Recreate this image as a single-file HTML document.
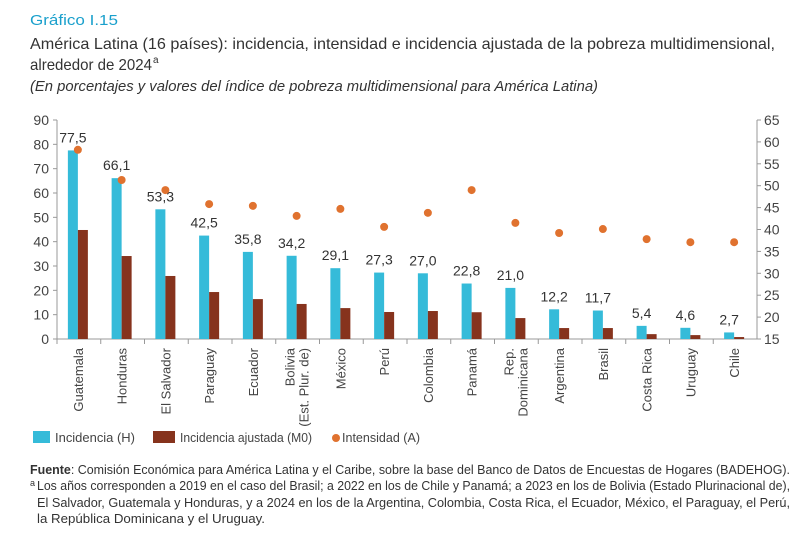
<!DOCTYPE html>
<html><head><meta charset="utf-8"><style>
html,body{margin:0;padding:0;background:#fff}
svg{display:block;font-family:"Liberation Sans Narrow","Liberation Sans",sans-serif}
</style></head><body>
<svg id="s" width="800" height="533" viewBox="0 0 800 533" xmlns="http://www.w3.org/2000/svg">
<text x="30" y="25" font-size="15" fill="#1aa0cc" textLength="88" lengthAdjust="spacingAndGlyphs">Gráfico I.15</text>
<text x="30" y="49" font-size="16" fill="#333" textLength="745" lengthAdjust="spacingAndGlyphs">América Latina (16 países): incidencia, intensidad e incidencia ajustada de la pobreza multidimensional,</text>
<text x="30" y="70" font-size="16" fill="#333" textLength="122" lengthAdjust="spacingAndGlyphs">alrededor de 2024</text>
<text x="153" y="63" font-size="10" fill="#333">a</text>
<text x="30" y="91" font-size="15" font-style="italic" fill="#333" textLength="568" lengthAdjust="spacingAndGlyphs">(En porcentajes y valores del índice de pobreza multidimensional para América Latina)</text>
<g id="chart"></g>
<g font-size="13" fill="#444">
<rect x="33" y="431" width="17" height="12" fill="#35bbd9"/>
<text x="55" y="442" textLength="80" lengthAdjust="spacingAndGlyphs">Incidencia (H)</text>
<rect x="153" y="431" width="22" height="12" fill="#86331d"/>
<text x="180" y="442" textLength="132" lengthAdjust="spacingAndGlyphs">Incidencia ajustada (M0)</text>
<circle cx="336" cy="438" r="4" fill="#e0722f"/>
<text x="342" y="442" textLength="78" lengthAdjust="spacingAndGlyphs">Intensidad (A)</text>
</g>
<g font-size="13" fill="#333">
<text x="30" y="474" textLength="760" lengthAdjust="spacingAndGlyphs"><tspan font-weight="bold">Fuente</tspan>:  Comisión Económica para América Latina y el Caribe, sobre la base del Banco de Datos de Encuestas de Hogares (BADEHOG).</text>
<text x="30" y="486" font-size="9">a</text>
<text x="37" y="490" textLength="753" lengthAdjust="spacingAndGlyphs">Los años corresponden a 2019 en el caso del Brasil; a 2022 en los de Chile y Panamá; a 2023 en los de Bolivia (Estado Plurinacional de),</text>
<text x="37" y="507" textLength="753" lengthAdjust="spacingAndGlyphs">El Salvador, Guatemala y Honduras, y a 2024 en los de la Argentina, Colombia, Costa Rica, el Ecuador, México, el Paraguay, el Perú,</text>
<text x="37" y="523" textLength="228" lengthAdjust="spacingAndGlyphs">la República Dominicana y el Uruguay.</text>
</g>
</svg>
<script>
var g=document.getElementById('chart'),h='';
var L=57,R=757,T=120,B=339,n=16,w=(R-L)/n;
var names=[["Guatemala"],["Honduras"],["El Salvador"],["Paraguay"],["Ecuador"],["Bolivia","(Est. Plur. de)"],["México"],["Perú"],["Colombia"],["Panamá"],["Rep.","Dominicana"],["Argentina"],["Brasil"],["Costa Rica"],["Uruguay"],["Chile"]];
var H=[77.5,66.1,53.3,42.5,35.8,34.2,29.1,27.3,27.0,22.8,21.0,12.2,11.7,5.4,4.6,2.7];
var M=[44.8,34.1,25.9,19.3,16.4,14.4,12.7,11.1,11.5,11.0,8.6,4.5,4.5,2.0,1.6,0.8];
var A=[58.2,51.3,49.0,45.8,45.4,43.1,44.7,40.6,43.8,49.0,41.5,39.2,40.1,37.8,37.1,37.1];
function yl(v){return B-v*(B-T)/90}
function yr(v){return B-(v-15)*(B-T)/50}
h+='<line x1="'+L+'" y1="'+T+'" x2="'+L+'" y2="'+B+'" stroke="#999"/>';
h+='<line x1="'+R+'" y1="'+T+'" x2="'+R+'" y2="'+B+'" stroke="#999"/>';
h+='<line x1="'+L+'" y1="'+B+'" x2="'+R+'" y2="'+B+'" stroke="#999"/>';
for(var v=0;v<=90;v+=10){var y=yl(v);h+='<line x1="'+(L-4)+'" y1="'+y+'" x2="'+L+'" y2="'+y+'" stroke="#999"/><text x="'+(L-8)+'" y="'+(y+5)+'" font-size="14" fill="#444" text-anchor="end">'+v+'</text>';}
for(var v=15;v<=65;v+=5){var y=yr(v);h+='<line x1="'+R+'" y1="'+y+'" x2="'+(R+4)+'" y2="'+y+'" stroke="#999"/><text x="'+(R+7)+'" y="'+(y+5)+'" font-size="14" fill="#444">'+v+'</text>';}
for(var i=0;i<n;i++){
 var x0=L+i*w,c=x0+w/2;
 h+='<line x1="'+x0+'" y1="'+B+'" x2="'+x0+'" y2="'+(B+5)+'" stroke="#999"/>';
 var yh=yl(H[i]),ym=yl(M[i]);
 h+='<rect x="'+(c-11)+'" y="'+yh+'" width="10" height="'+(B-yh)+'" fill="#35bbd9"/>';
 h+='<rect x="'+(c-1)+'" y="'+ym+'" width="10" height="'+(B-ym)+'" fill="#86331d"/>';
 h+='<text x="'+(c-6)+'" y="'+(yh-8)+'" font-size="14" fill="#333" text-anchor="middle">'+H[i].toFixed(1).replace('.',',')+'</text>';
 h+='<circle cx="'+(c-1)+'" cy="'+yr(A[i])+'" r="4" fill="#e0722f"/>';
 var nm=names[i];
 for(var k=0;k<nm.length;k++){
  var xx=c+4+(k-(nm.length-1)/2)*14;
  h+='<text transform="translate('+xx+',348) rotate(-90)" font-size="13" fill="#444" text-anchor="end">'+nm[k]+'</text>';
 }
}
g.innerHTML=h;
</script>
</body></html>
